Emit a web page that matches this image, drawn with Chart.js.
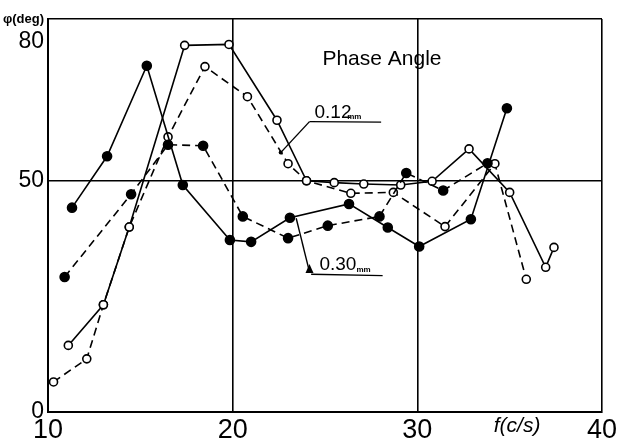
<!DOCTYPE html>
<html>
<head>
<meta charset="utf-8">
<script src="https://cdn.jsdelivr.net/npm/chart.js@4"></script>
<style>
html,body{margin:0;padding:0;background:#fff;}
#wrap{width:620px;height:443px;}
</style>
</head>
<body>
<div id="wrap"><canvas id="c" width="620" height="443"></canvas></div>
<script>
// ---- data ----
const solidFilledX = [11.3, 13.2, 15.35, 17.3, 19.85, 21.0, 23.1, 26.3, 28.4, 30.1, 32.9, 34.85];
const solidFilledY = [44.2, 55.3, 74.9, 49.1, 37.2, 36.8, 42.0, 45.0, 39.9, 35.8, 41.7, 65.7];

const dashedFilledX = [10.9, 14.5, 16.5, 18.4, 20.55, 23.0, 25.15, 27.95, 29.4, 31.4, 33.8];
const dashedFilledY = [29.2, 47.1, 57.8, 57.6, 42.3, 37.6, 40.3, 42.3, 51.7, 47.9, 53.8];

const solidOpenX = [11.1, 13.0, 14.4, 17.4, 19.8, 22.4, 24.0, 25.5, 27.1, 29.1, 30.8, 32.8, 35.0, 36.95, 37.4];
const solidOpenY = [14.4, 23.2, 40.0, 79.3, 79.5, 63.1, 50.0, 49.6, 49.3, 49.1, 49.9, 56.9, 47.5, 31.3, 35.6];

const dashedOpenX = [10.3, 12.1, 13.0, 14.4, 16.5, 18.5, 20.8, 23.0, 24.0, 26.4, 28.7, 31.5, 34.2, 35.9];
const dashedOpenY = [6.5, 11.5, 23.2, 40.0, 59.5, 74.7, 68.2, 53.7, 50.0, 47.3, 47.5, 40.1, 53.7, 28.7];

const xTickValues = [10, 20, 30, 35.4, 40];
const xTickLabels = ['10', '20', '30', 'f(c/s)', '40'];
const yTickValues = [0, 50, 80, 85];
const yTickLabels = ['0', '50', '80', '\u03C6(deg)'];
const xGridAt = [20, 30, 40];
const yGridAt = [50, 85];

const titleText = 'Phase Angle';
const label012 = '0.12';
const label030 = '0.30';
const unitText = 'mm';

// ---- helpers ----
const zip = (xs, ys) => xs.map((x, i) => ({x: x, y: ys[i]}));

const FONT = "'Liberation Sans', Arial, sans-serif";

function ds(xs, ys, filled, dashed) {
  return {
    data: zip(xs, ys),
    borderColor: '#000',
    borderWidth: 1.6,
    borderDash: dashed ? [8, 5] : [],
    pointRadius: filled ? 4.5 : 4,
    pointBorderWidth: 1.6,
    pointBorderColor: '#000',
    pointBackgroundColor: filled ? '#000' : '#fff',
    pointStyle: 'circle',
    fill: false,
    tension: 0,
    showLine: true
  };
}

// annotation geometry (styling / placement, kept separate from data)
const annoTexts = [
  {text: titleText, x: 24.86, y: 75.1, size: 21},
  {text: label012, x: 24.43, y: 63.6, size: 19},
  {text: unitText, x: 26.2, y: 63.4, size: 8, bold: true},
  {text: label030, x: 24.7, y: 30.7, size: 19},
  {text: unitText, x: 26.7, y: 30.2, size: 8, bold: true}
];
const annoLines = [
  [[24.16, 62.8], [28.04, 62.7]],
  [[24.16, 62.8], [22.6, 56.1]],
  [[24.25, 29.8], [28.12, 29.5]],
  [[23.44, 41.9], [24.16, 30.3]]
];

const annoPlugin = {
  id: 'anno',
  afterDatasetsDraw(chart) {
    const {ctx, scales} = chart;
    const X = v => scales.x.getPixelForValue(v);
    const Y = v => scales.y.getPixelForValue(v);
    ctx.save();
    ctx.strokeStyle = '#000';
    ctx.fillStyle = '#000';
    ctx.lineWidth = 1.4;
    annoLines.forEach(l => {
      ctx.beginPath();
      ctx.moveTo(X(l[0][0]), Y(l[0][1]));
      ctx.lineTo(X(l[1][0]), Y(l[1][1]));
      ctx.stroke();
    });
    // arrow head on 0.30 leader
    const ax = X(24.16), ay = Y(30.3);
    ctx.beginPath();
    ctx.moveTo(ax, ay - 8);
    ctx.lineTo(ax - 4, ay + 1);
    ctx.lineTo(ax + 4, ay + 1);
    ctx.closePath();
    ctx.fill();
    // small tick on 0.12 leader
    const bx = X(22.6), by = Y(56.1);
    ctx.beginPath();
    ctx.arc(bx, by, 2, 0, Math.PI * 2);
    ctx.fill();
    ctx.textBaseline = 'alphabetic';
    ctx.textAlign = 'left';
    annoTexts.forEach(t => {
      ctx.font = (t.bold ? 'bold ' : '') + t.size + 'px ' + FONT;
      ctx.fillText(t.text, X(t.x), Y(t.y));
    });
    ctx.restore();
  }
};

new Chart(document.getElementById('c'), {
  type: 'scatter',
  data: {
    datasets: [
      ds(solidFilledX, solidFilledY, true, false),
      ds(dashedFilledX, dashedFilledY, true, true),
      ds(solidOpenX, solidOpenY, false, false),
      ds(dashedOpenX, dashedOpenY, false, true)
    ]
  },
  options: {
    responsive: false,
    animation: false,
    layout: {padding: {left: 0, right: 18, top: 19, bottom: 0}},
    plugins: {legend: {display: false}, tooltip: {enabled: false}, title: {display: false}},
    scales: {
      x: {
        type: 'linear',
        min: 10, max: 40,
        afterBuildTicks: s => { s.ticks = xTickValues.map(v => ({value: v})); },
        afterFit: s => { s.height = 31; },
        ticks: {
          autoSkip: false,
          maxRotation: 0,
          padding: 2,
          color: '#000',
          font: c => (c.index === 3 ? {family: FONT, size: 21, style: 'italic'} : {family: FONT, size: 27}),
          callback: (v, i) => xTickLabels[i]
        },
        grid: {
          drawTicks: false,
          color: c => (c.tick && xGridAt.includes(c.tick.value) ? '#000' : 'rgba(0,0,0,0)'),
          lineWidth: 1.6
        },
        border: {display: true, color: '#000', width: 2}
      },
      y: {
        type: 'linear',
        min: 0, max: 85,
        afterBuildTicks: s => { s.ticks = yTickValues.map(v => ({value: v})); },
        afterFit: s => { s.width = 48; },
        ticks: {
          autoSkip: false,
          padding: 4,
          color: '#000',
          font: c => (c.index === 3 ? {family: FONT, size: 13, weight: 'bold'} : {family: FONT, size: 23}),
          callback: (v, i) => yTickLabels[i]
        },
        grid: {
          drawTicks: false,
          color: c => (c.tick && yGridAt.includes(c.tick.value) ? '#000' : 'rgba(0,0,0,0)'),
          lineWidth: 1.6
        },
        border: {display: true, color: '#000', width: 2}
      }
    }
  },
  plugins: [annoPlugin]
});
</script>
</body>
</html>
